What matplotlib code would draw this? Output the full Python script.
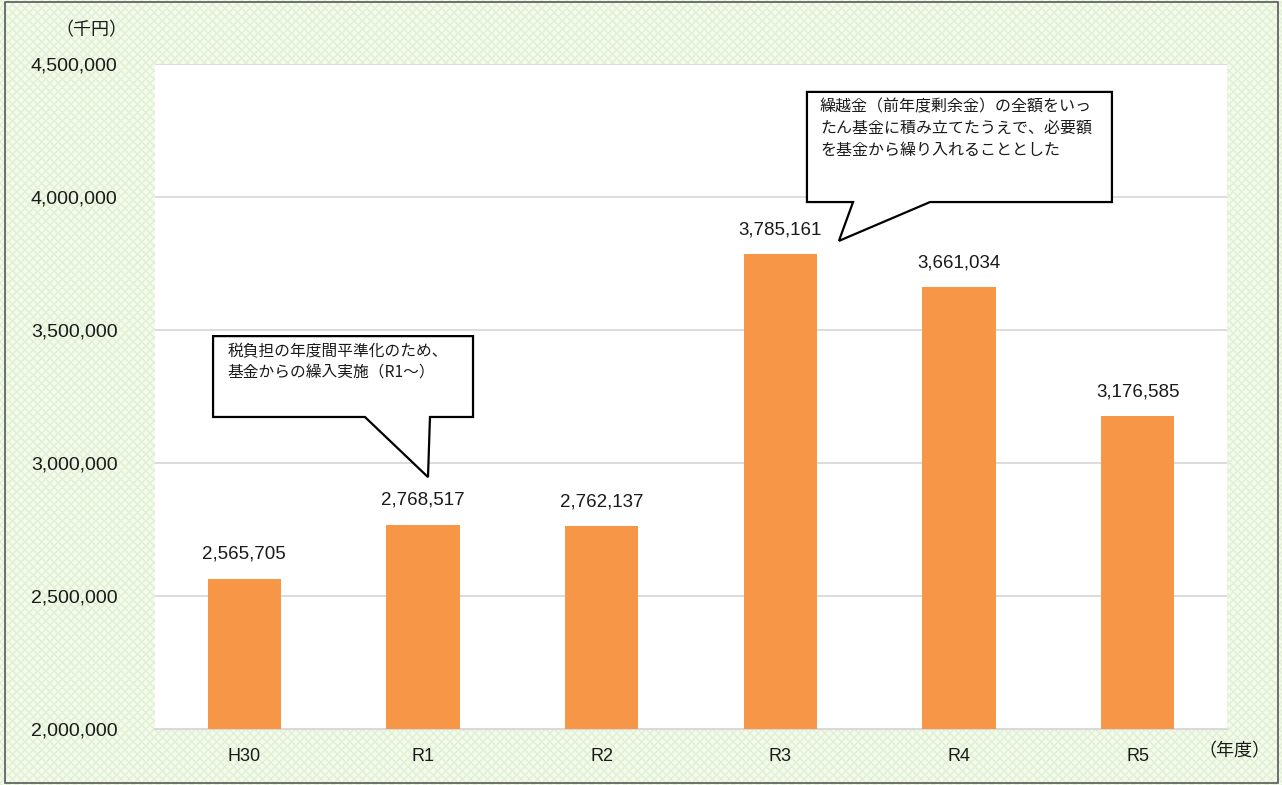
from matplotlib import pyplot as plt
from matplotlib import ticker as mtick
from matplotlib.patches import Polygon, Rectangle
import numpy as np

plt.rcParams['font.family'] = ['Liberation Sans', 'Noto Sans CJK JP', 'DejaVu Sans']
jp = ['Noto Sans CJK JP', 'DejaVu Sans']

# dados
anos = ['H30', 'R1', 'R2', 'R3', 'R4', 'R5']
valores = [2565705, 2768517, 2762137, 3785161, 3661034, 3176585]
yticks = [2000000, 2500000, 3000000, 3500000, 4000000, 4500000]

nota_r1 = '税負担の年度間平準化のため、\n基金からの繰入実施（R1～）'
nota_r3 = '繰越金（前年度剰余金）の全額をいっ\nたん基金に積み立てたうえで、必要額\nを基金から繰り入れることとした'

laranja = '#f79646'
cinza_grade = '#d9d9d9'

fig = plt.figure(figsize=(12.82, 7.85), dpi=100)
fig.patch.set_facecolor('#f3faee')

# fundo pontilhado verde
fundo = Rectangle((0, 0), 1, 1, transform=fig.transFigure, facecolor='none',
                  edgecolor='#e0f0d0', hatch='xxxx', linewidth=0, zorder=-10)
fig.patches.append(fundo)
borda = Rectangle((0.004, 0.002), 0.993, 0.995, transform=fig.transFigure,
                  facecolor='none', edgecolor='#595959', linewidth=1.2, zorder=10)
fig.patches.append(borda)

ax = fig.add_axes([0.1209, 0.0713, 0.8362, 0.8472])
ax.set_facecolor('white')

x = np.arange(len(anos))
ax.bar(x, valores, width=0.41, color=laranja, zorder=3)

for xi, v in zip(x, valores):
    ax.text(xi, v + 60000, f'{v:,}', ha='center', va='bottom', fontsize=13.5, color='#1a1a1a')

ax.set_xlim(-0.5, len(anos) - 0.5)
ax.set_ylim(2000000, 4500000)
ax.set_yticks(yticks)
ax.yaxis.set_major_formatter(mtick.StrMethodFormatter('{x:,.0f}'))
ax.set_xticks(x)
ax.set_xticklabels(anos)
ax.tick_params(axis='y', labelsize=14, length=0, pad=27, colors='#1a1a1a')
ax.tick_params(axis='x', labelsize=13, length=0, pad=14, colors='#1a1a1a')

ax.grid(True, 'major', 'y', color=cinza_grade, lw=1.3, zorder=0)

# remoção de linhas de borda
for s in ['right', 'top', 'left']:
    ax.spines[s].set_visible(False)
ax.spines['bottom'].set_color(cinza_grade)
ax.spines['bottom'].set_linewidth(1.5)

fig.text(0.0715, 0.962, '（千円）', fontsize=13, ha='center', va='center',
         color='#1a1a1a', family=jp)
fig.text(0.963, 0.043, '（年度）', fontsize=13, ha='center', va='center',
         color='#1a1a1a', family=jp)

# balões de comentário
balao1 = [(-0.175, 3477000), (1.28, 3477000), (1.28, 3173000), (1.039, 3173000),
          (1.028, 2947000), (0.675, 3173000), (-0.175, 3173000)]
balao2 = [(3.149, 4395000), (4.856, 4395000), (4.856, 3981000), (3.838, 3981000),
          (3.328, 3835000), (3.407, 3981000), (3.149, 3981000)]
for pts in [balao1, balao2]:
    ax.add_patch(Polygon(pts, closed=True, facecolor='white', edgecolor='black',
                         lw=1.6, zorder=5, clip_on=False))

ax.text(-0.095, 3450000, nota_r1, fontsize=11.3, va='top', ha='left',
        linespacing=1.35, zorder=6, color='#1a1a1a', family=jp)
ax.text(3.222, 4370000, nota_r3, fontsize=11.5, va='top', ha='left',
        linespacing=1.35, zorder=6, color='#1a1a1a', family=jp)

fig.savefig('out.png', dpi=100, facecolor=fig.get_facecolor())
